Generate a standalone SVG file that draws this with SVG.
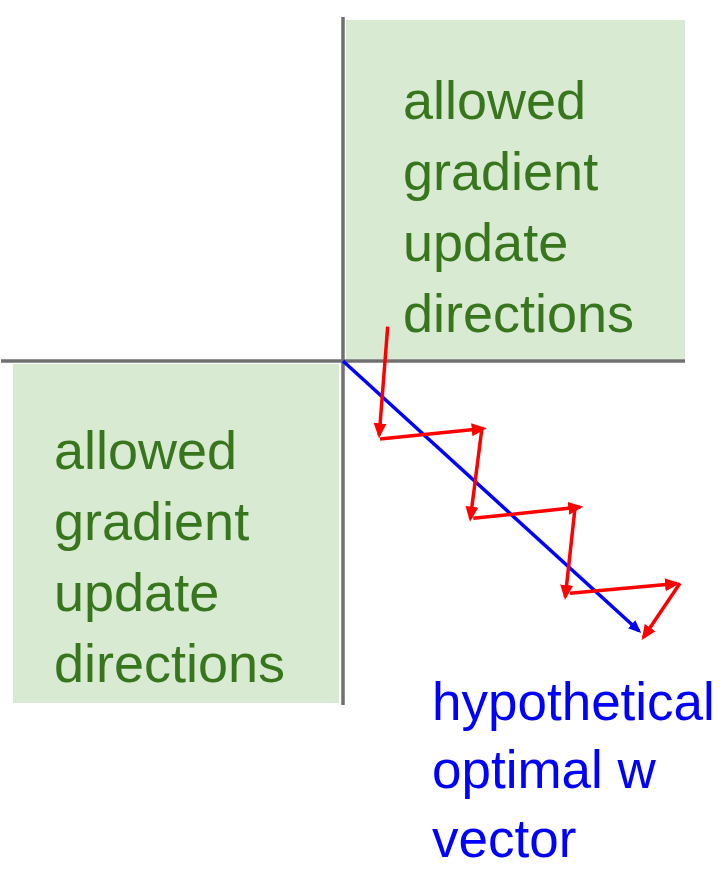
<svg xmlns="http://www.w3.org/2000/svg" width="728" height="894" viewBox="0 0 728 894">
<defs>
<style>
.box{fill:#d9ead3;}
.axis{stroke:#707070;stroke-width:3.5;fill:none;}
.gtxt{font-family:"Liberation Sans",Arial,sans-serif;font-size:54px;fill:#38761d;}
.btxt{font-family:"Liberation Sans",Arial,sans-serif;font-size:53px;fill:#0000ff;}
.red{stroke:#ff0000;stroke-width:3.5;fill:none;marker-end:url(#ah-red);}
.blue{stroke:#0000ff;stroke-width:3.5;fill:none;marker-end:url(#ah-blue);}
</style>
<marker id="ah-red" markerUnits="userSpaceOnUse" markerWidth="16" markerHeight="14" refX="12" refY="7" orient="auto">
<path d="M0,0.5 L15,7 L0,13.5 z" fill="#ff0000"/>
</marker>
<marker id="ah-blue" markerUnits="userSpaceOnUse" markerWidth="14" markerHeight="12" refX="10" refY="6" orient="auto">
<path d="M0,0.5 L13,6 L0,11.5 z" fill="#0000ff"/>
</marker>
</defs>
<rect width="728" height="894" fill="#ffffff"/>
<g id="region-top-right">
<rect class="box" x="346" y="20" width="339" height="339"/>
<text class="gtxt" x="403" y="119">allowed</text>
<text class="gtxt" x="403" y="190">gradient</text>
<text class="gtxt" x="403" y="261">update</text>
<text class="gtxt" x="403" y="332">directions</text>
</g>
<g id="region-bottom-left">
<rect class="box" x="13" y="364" width="326" height="339"/>
<text class="gtxt" x="54" y="469">allowed</text>
<text class="gtxt" x="54" y="540">gradient</text>
<text class="gtxt" x="54" y="611">update</text>
<text class="gtxt" x="54" y="682">directions</text>
</g>
<g id="axes">
<line class="axis" x1="343" y1="17" x2="343" y2="705"/>
<line class="axis" x1="1" y1="361" x2="685" y2="361"/>
</g>
<g id="label-optimal">
<text class="btxt" x="432" y="720">hypothetical</text>
<text class="btxt" x="432" y="788">optimal w</text>
<text class="btxt" x="432" y="857">vector</text>
</g>
<g id="connectors">
<line class="blue" x1="343" y1="361" x2="639" y2="631"/>
<line class="red" x1="387.7" y1="326.7" x2="379.2" y2="435.3"/>
<line class="red" x1="380" y1="439" x2="483.7" y2="428.6"/>
<line class="red" x1="481.7" y1="430" x2="470.4" y2="518.7"/>
<line class="red" x1="473.3" y1="518.3" x2="580.3" y2="507"/>
<line class="red" x1="575" y1="508.3" x2="565.3" y2="597"/>
<line class="red" x1="570" y1="593.3" x2="677" y2="583.6"/>
<line class="red" x1="680" y1="583.3" x2="643.4" y2="637.5"/>
</g>
</svg>
